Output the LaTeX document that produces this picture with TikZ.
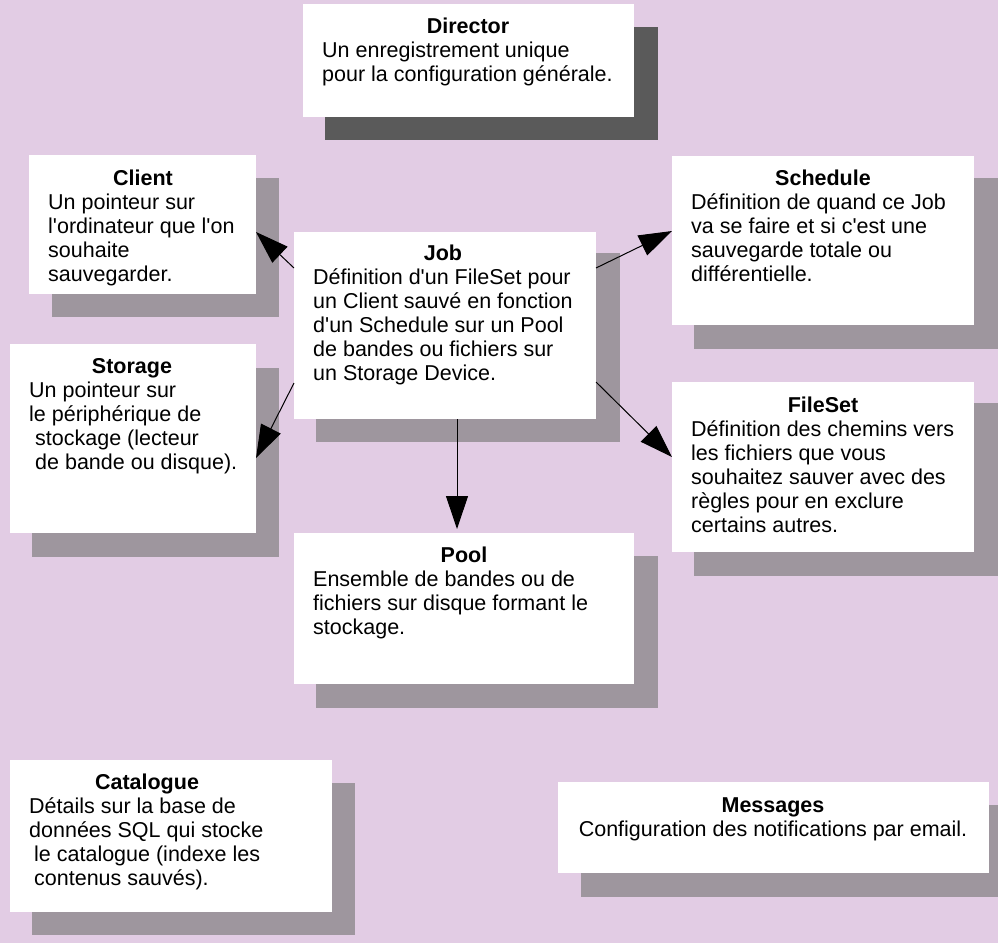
\documentclass[tikz,border=0pt]{standalone}
\usepackage{fontspec}
\setmainfont{Liberation Sans}
\usetikzlibrary{arrows.meta}
\definecolor{bgcol}{RGB}{226,204,228}
\definecolor{shadowgray}{RGB}{158,150,158}
\definecolor{darkshadow}{RGB}{90,90,90}
\newcommand{\sq}{\textquotesingle}
\tikzset{
  box/.style={fill=white, inner sep=0pt, outer sep=0pt, anchor=north west},
  ttl/.style={font=\fontsize{21.5}{24}\selectfont\bfseries, anchor=base, inner sep=0pt},
  body/.style={font=\fontsize{21.5}{24}\selectfont, align=left, anchor=north west, inner sep=0pt, yshift=16.8pt},
  conn/.style={-{Triangle[length=33pt,width=22pt]}, line width=1pt, black}
}
\begin{document}
\begin{tikzpicture}[x=1pt,y=-1pt]
\useasboundingbox (0,0) rectangle (998,943);
\fill[bgcol] (0,0) rectangle (998,943);
\clip (0,0) rectangle (998,943);
% shadows
\fill[darkshadow] (325,27) rectangle (658,140);
\fill[shadowgray] (52,178) rectangle (279,317);
\fill[shadowgray] (316,253) rectangle (620,442);
\fill[shadowgray] (694,178) rectangle (1000,349);
\fill[shadowgray] (32,368) rectangle (279,557);
\fill[shadowgray] (694,403) rectangle (1000,576);
\fill[shadowgray] (316,556) rectangle (658,708);
\fill[shadowgray] (32,783) rectangle (355,935);
\fill[shadowgray] (581,805) rectangle (1000,897);
% boxes
\node[box, minimum width=331pt, minimum height=113pt] (director) at (303,4) {};
\node[box, minimum width=227pt, minimum height=139pt] (client) at (29,155) {};
\node[box, minimum width=302pt, minimum height=187pt] (job) at (294,232) {};
\node[box, minimum width=302pt, minimum height=169pt] (schedule) at (672,156) {};
\node[box, minimum width=246pt, minimum height=189pt] (storage) at (10,344) {};
\node[box, minimum width=302pt, minimum height=170pt] (fileset) at (672,382) {};
\node[box, minimum width=340pt, minimum height=151pt] (pool) at (294,533) {};
\node[box, minimum width=322pt, minimum height=152pt] (catalogue) at (10,760) {};
\node[box, minimum width=431pt, minimum height=91pt] (messages) at (558,782) {};
% texts
\node[ttl] (directorT) at (468,33) {Director};
\node[body] (directorB) at (322,57) {\strut Un enregistrement unique\\pour la configuration générale.};
\node[ttl] (clientT) at (143,185) {Client};
\node[body] (clientB) at (48,209) {\strut Un pointeur sur\\l\sq ordinateur que l\sq on\\souhaite\\sauvegarder.};
\node[ttl] (jobT) at (443,260) {Job};
\node[body] (jobB) at (313,284) {\strut Définition d\sq un FileSet pour\\un Client sauvé en fonction\\d\sq un Schedule sur un Pool\\de bandes ou fichiers sur\\un Storage Device.};
\node[ttl] (scheduleT) at (823,185) {Schedule};
\node[body] (scheduleB) at (691,209) {\strut Définition de quand ce Job\\va se faire et si c\sq est une\\sauvegarde totale ou\\différentielle.};
\node[ttl] (storageT) at (132,373) {Storage};
\node[body] (storageB) at (29,397) {\strut Un pointeur sur\\le périphérique de\\\hspace*{6pt}stockage (lecteur\\\hspace*{6pt}de bande ou disque).};
\node[ttl] (filesetT) at (823,412) {FileSet};
\node[body] (filesetB) at (691,436) {\strut Définition des chemins vers\\les fichiers que vous\\souhaitez sauver avec des\\règles pour en exclure\\certains autres.};
\node[ttl] (poolT) at (464,562) {Pool};
\node[body] (poolB) at (313,586) {\strut Ensemble de bandes ou de\\fichiers sur disque formant le\\stockage.};
\node[ttl] (catalogueT) at (147,789) {Catalogue};
\node[body] (catalogueB) at (29,813) {\strut Détails sur la base de\\données SQL qui stocke\\\hspace*{5pt}le catalogue (indexe les\\\hspace*{5pt}contenus sauvés).};
\node[ttl] (messagesT) at (773,812) {Messages};
\node[ttl, font=\fontsize{21.5}{24}\selectfont] (messagesB) at (773,836) {Configuration des notifications par email.};
% connectors
\draw[conn] ([yshift=-36pt]job.north west) -- ([yshift=-77pt]client.north east);
\draw[conn] ([yshift=-151pt]job.north west) -- ([yshift=-114pt]storage.north east);
\draw[conn] ([yshift=-36pt]job.north east) -- ([yshift=-75pt]schedule.north west);
\draw[conn] ([yshift=-150pt]job.north east) -- ([yshift=-75pt]fileset.north west);
\draw[conn] ([xshift=12pt]job.south) -- ([xshift=-7pt,yshift=4pt]pool.north);
\end{tikzpicture}
\end{document}
